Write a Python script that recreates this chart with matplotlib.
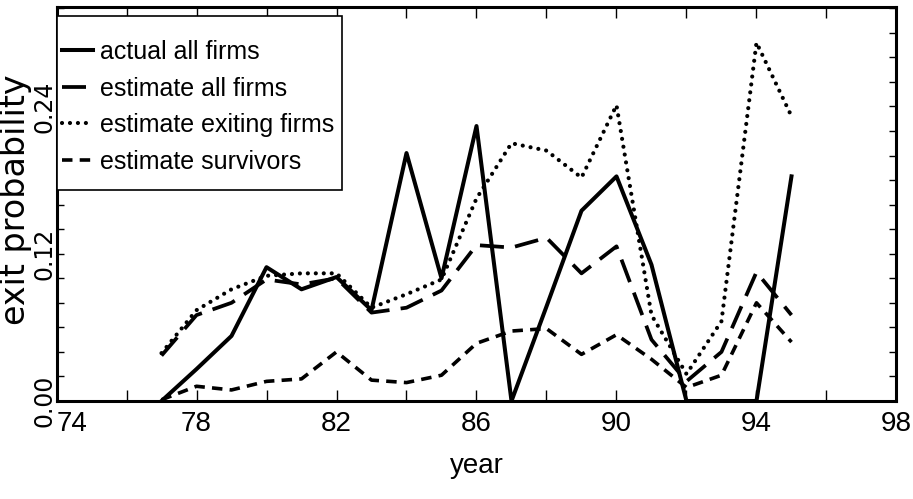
import matplotlib
matplotlib.use("Agg")
import matplotlib.pyplot as plt
from matplotlib.patches import Rectangle

# exit probabilities by year
years = [77, 78, 79, 80, 81, 82, 83, 84, 85, 86, 87, 88, 89, 90, 91, 92, 93, 94, 95]
actual_all = [0.000, 0.026, 0.053, 0.109, 0.091, 0.101, 0.074, 0.202, 0.100, 0.224,
              0.000, 0.077, 0.155, 0.183, 0.111, 0.000, 0.000, 0.000, 0.183]
est_all = [0.037, 0.070, 0.080, 0.099, 0.095, 0.100, 0.072, 0.076, 0.090, 0.127,
           0.125, 0.133, 0.104, 0.126, 0.050, 0.016, 0.040, 0.105, 0.070]
est_exiting = [0.039, 0.074, 0.091, 0.102, 0.104, 0.104, 0.076, 0.087, 0.099, 0.165,
               0.210, 0.204, 0.182, 0.241, 0.070, 0.022, 0.065, 0.292, 0.232]
est_survivors = [0.001, 0.012, 0.009, 0.016, 0.018, 0.040, 0.017, 0.015, 0.021, 0.047,
                 0.057, 0.059, 0.038, 0.054, 0.034, 0.011, 0.021, 0.080, 0.048]

labels = ["actual all firms", "estimate all firms", "estimate exiting firms", "estimate survivors"]
xticks = list(range(74, 99, 2))
xlabels = [str(t) if t % 4 == 2 else "" for t in xticks]
yticks = [i * 0.02 for i in range(17)]
ylabels = {0: "0.00", 6: "0.12", 12: "0.24"}

narrow = "Liberation Sans"

fig = plt.figure(figsize=(9.13, 4.99), dpi=100)
ax = fig.add_axes([0.0619, 0.1964, 0.920, 0.7896])

ax.plot(years, actual_all, color="black", lw=2.9, ls="-", label=labels[0])
ax.plot(years, est_all, color="black", lw=2.7, ls=(0, (6.4, 3.0)), label=labels[1])
ax.plot(years, est_exiting, color="black", lw=3.0, ls=(0, (0.01, 1.9)),
        dash_capstyle="round", label=labels[2])
ax.plot(years, est_survivors, color="black", lw=2.6, ls=(0, (2.9, 2.0)), label=labels[3])

ax.set_xlim(74, 98)
ax.set_ylim(0, 0.321)

ax.set_xticks(xticks)
ax.set_xticklabels(xlabels, family=narrow, fontsize=20)
ax.get_xticklabels()[0].set_ha("left")
ax.set_yticks(yticks)
ax.set_yticklabels([ylabels.get(i, "") for i in range(len(yticks))],
                   family="DejaVu Sans", fontsize=17, rotation=90, va="center")
ax.tick_params(axis="x", direction="in", length=8, width=1, top=True, pad=7)
ax.tick_params(axis="y", direction="in", length=5, width=1, right=True, pad=0)

for sp in ax.spines.values():
    sp.set_linewidth(2.2)

ax.set_xlabel("year", family=narrow, fontsize=20, labelpad=12)
ax.set_ylabel("exit probability", family="DejaVu Sans", fontsize=24)
ax.yaxis.set_label_coords(-0.029, 0.51)

# legend box drawn separately so its padding matches the reference
ax.add_patch(Rectangle((0.0, 0.5355), 0.340, 0.4416, transform=ax.transAxes,
                       facecolor="white", edgecolor="black", lw=1.2, zorder=4))
leg = ax.legend(loc="upper left", bbox_to_anchor=(0.0065, 0.916), borderaxespad=0,
                prop={"family": narrow, "size": 18}, handlelength=1.24,
                handletextpad=0.28, labelspacing=0.5, borderpad=0,
                frameon=False)
leg.set_zorder(5)

fig.savefig("out.png", dpi=100)
